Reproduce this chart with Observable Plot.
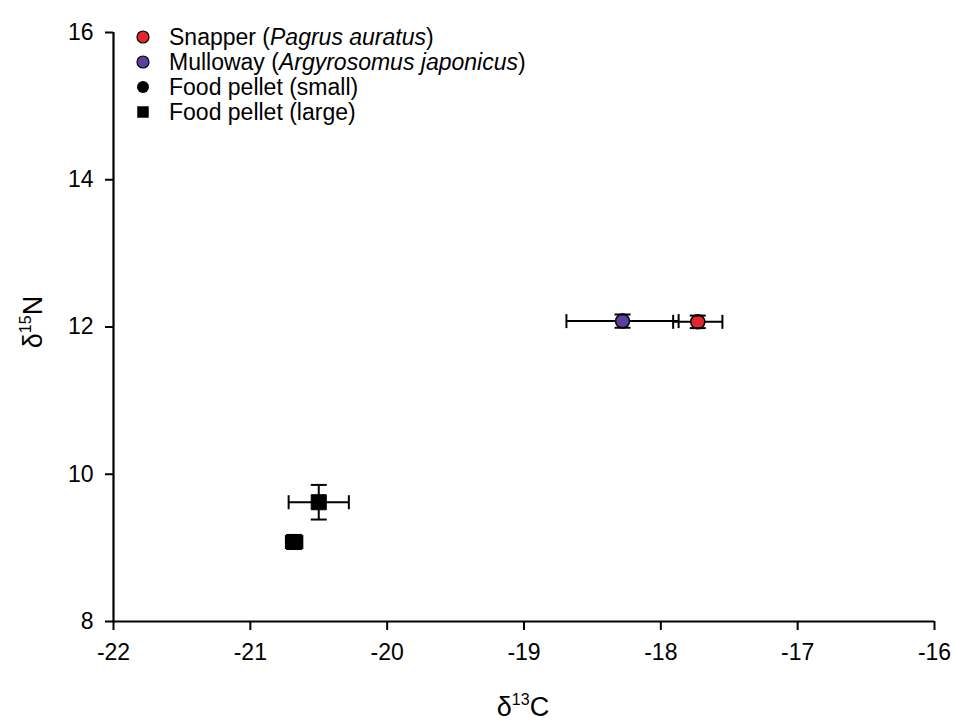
<!DOCTYPE html>
<html>
<head>
<meta charset="utf-8">
<script src="https://cdn.jsdelivr.net/npm/d3@7"></script>
<script src="https://cdn.jsdelivr.net/npm/@observablehq/plot@0.6"></script>
<style>
  html, body { margin: 0; padding: 0; background: #fff; }
  #chart { width: 954px; height: 722px; }
</style>
</head>
<body>
<div id="chart"></div>
<script>
// ---- data ----
const groups = ["Snapper", "Mulloway", "Food pellet (small)", "Food pellet (large)"];
const d13C = [-17.73, -18.28, -20.50, -20.68];
const d13Cse = [0.18, 0.41, 0.22, 0.06];
const d15N = [12.07, 12.08, 9.62, 9.08];
const d15Nse = [0.085, 0.09, 0.235, 0.09];
const fills = ["#e3262e", "#5c3e9e", "#000000", "#000000"];
const markerSymbols = ["circle", "circle", "square", "square"];
const legendSymbols = ["circle", "circle", "circle", "square"];
const legendPlain = ["Snapper (", "Mulloway (", "Food pellet (small)", "Food pellet (large)"];
const legendItalic = ["Pagrus auratus", "Argyrosomus japonicus", "", ""];
const legendClose = [")", ")", "", ""];
const xTicks = [-22, -21, -20, -19, -18, -17, -16];
const yTicks = [8, 10, 12, 14, 16];

const data = groups.map((g, i) => ({
  group: g, x: d13C[i], xe: d13Cse[i], y: d15N[i], ye: d15Nse[i],
  fill: fills[i], symbol: markerSymbols[i]
}));

const font = "'Liberation Sans', Arial, Helvetica, sans-serif";

// custom cap symbols
const vCap = { draw(ctx, size) { const h = Math.sqrt(size / Math.PI); ctx.moveTo(0, -h); ctx.lineTo(0, h); } };
const hCap = { draw(ctx, size) { const h = Math.sqrt(size / Math.PI); ctx.moveTo(-h, 0); ctx.lineTo(h, 0); } };

const plot = Plot.plot({
  width: 954,
  height: 722,
  marginLeft: 113,
  marginRight: 20,
  marginTop: 32,
  marginBottom: 101,
  style: { fontFamily: font, fontSize: "23px", color: "#000", background: "#fff" },
  x: { domain: [-22, -16] },
  y: { domain: [8, 16] },
  color: { type: "identity" },
  marks: [
    Plot.axisX({ ticks: xTicks, tickSize: 9, tickPadding: 13, tickFormat: d => String(d), label: null, fontSize: 23, strokeWidth: 2 }),
    Plot.axisY({ ticks: yTicks, tickSize: 8, tickPadding: 12, tickFormat: d => String(d), label: null, fontSize: 23, strokeWidth: 2 }),
    Plot.ruleX([-22], { stroke: "#000", strokeWidth: 2.2 }),
    Plot.ruleY([8], { stroke: "#000", strokeWidth: 2.2 }),
    // error bars
    Plot.link(data, { x1: d => d.x - d.xe, x2: d => d.x + d.xe, y1: "y", y2: "y", stroke: "#000", strokeWidth: 2 }),
    Plot.link(data, { x1: "x", x2: "x", y1: d => d.y - d.ye, y2: d => d.y + d.ye, stroke: "#000", strokeWidth: 2 }),
    Plot.dot(data, { x: d => d.x - d.xe, y: "y", symbol: vCap, r: 7, stroke: "#000", strokeWidth: 2, fill: "none" }),
    Plot.dot(data, { x: d => d.x + d.xe, y: "y", symbol: vCap, r: 7, stroke: "#000", strokeWidth: 2, fill: "none" }),
    // markers
    Plot.dot(data, { filter: d => d.symbol === "circle", x: "x", y: "y", symbol: "circle", r: 7, fill: "fill", stroke: "#000", strokeWidth: 1.5 }),
    Plot.dot(data, { filter: d => d.symbol === "square", x: "x", y: "y", symbol: "square", r: 8.5, fill: "fill", stroke: "#000", strokeWidth: 1 }),
    Plot.dot(data, { x: "x", y: d => d.y - d.ye, symbol: hCap, r: 8, stroke: "#000", strokeWidth: 2, fill: "none" }),
    Plot.dot(data, { x: "x", y: d => d.y + d.ye, symbol: hCap, r: 8, stroke: "#000", strokeWidth: 2, fill: "none" })
  ]
});

const svg = d3.select(plot);

// legend
const lg = svg.append("g")
  .attr("font-family", font).attr("font-size", 23).attr("fill", "#000")
  .attr("text-anchor", "start");
groups.forEach((g, i) => {
  const cy = 37 + i * 25;
  const sym = legendSymbols[i] === "circle" ? d3.symbolCircle : d3.symbolSquare;
  const size = legendSymbols[i] === "circle" ? Math.PI * 6 * 6 : 132;
  lg.append("path")
    .attr("transform", `translate(143,${cy})`)
    .attr("d", d3.symbol(sym, size)())
    .attr("fill", fills[i])
    .attr("stroke", "#000")
    .attr("stroke-width", fills[i] === "#000000" ? 0 : 1.2);
  const t = lg.append("text").attr("x", 169).attr("y", cy).attr("dy", "0.36em").attr("text-anchor", "start");
  t.append("tspan").text(legendPlain[i]);
  if (legendItalic[i]) t.append("tspan").attr("font-style", "italic").text(legendItalic[i]);
  if (legendClose[i]) t.append("tspan").text(legendClose[i]);
});

// axis titles with superscripts
const xl = svg.append("text")
  .attr("x", 523).attr("y", 716)
  .attr("text-anchor", "middle")
  .attr("font-family", font).attr("font-size", 27).attr("fill", "#000");
xl.append("tspan").text("δ");
xl.append("tspan").attr("font-size", 16).attr("dy", -11).text("13");
xl.append("tspan").attr("dy", 11).text("C");

const yl = svg.append("text")
  .attr("transform", "translate(42,322) rotate(-90)")
  .attr("text-anchor", "middle")
  .attr("font-family", font).attr("font-size", 27).attr("fill", "#000");
yl.append("tspan").text("δ");
yl.append("tspan").attr("font-size", 16).attr("dy", -11).text("15");
yl.append("tspan").attr("dy", 11).text("N");

document.getElementById("chart").appendChild(plot);
</script>
</body>
</html>
